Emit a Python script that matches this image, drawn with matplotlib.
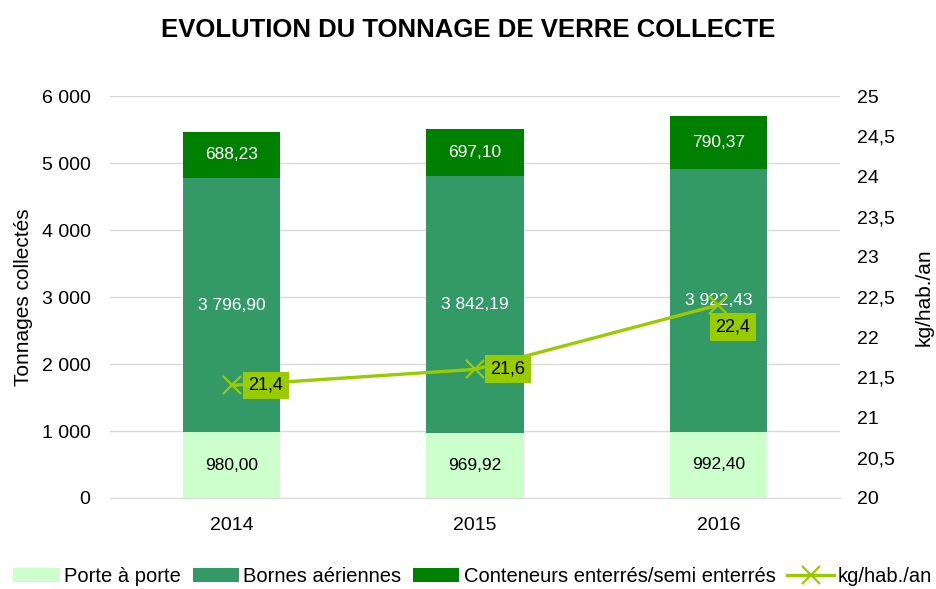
import numpy as np
import matplotlib
matplotlib.use("Agg")
import matplotlib.pyplot as plt

plt.rcParams['font.family'] = ['Liberation Sans', 'DejaVu Sans']

# Données
annees = ['2014', '2015', '2016']
porte_a_porte = [980.00, 969.92, 992.40]
bornes_aeriennes = [3796.90, 3842.19, 3922.43]
conteneurs = [688.23, 697.10, 790.37]
kg_hab = [21.4, 21.6, 22.4]


def fmt_fr(v):
    s = f"{v:,.2f}"
    return s.replace(",", " ").replace(".", ",")


fig = plt.figure(figsize=(9.36, 5.89), dpi=100)
ax = fig.add_axes([0.1175, 0.1545, 0.78, 0.6825])
ax2 = ax.twinx()

x = np.arange(len(annees))
w = 0.4
c_pap = '#CCFFCC'
c_bornes = '#339966'
c_cont = '#008000'
c_ligne = '#99CC00'

b1 = ax.bar(x, porte_a_porte, w, color=c_pap, label='Porte à porte', zorder=2)
b2 = ax.bar(x, bornes_aeriennes, w, bottom=porte_a_porte, color=c_bornes,
            label='Bornes aériennes', zorder=2)
bas3 = np.array(porte_a_porte) + np.array(bornes_aeriennes)
b3 = ax.bar(x, conteneurs, w, bottom=bas3, color=c_cont,
            label='Conteneurs enterrés/semi enterrés', zorder=2)

# Étiquettes des barres
for i in range(len(annees)):
    ax.text(x[i], porte_a_porte[i] / 2, fmt_fr(porte_a_porte[i]),
            ha='center', va='center', fontsize=12.5, color='black', zorder=3)
    ax.text(x[i], porte_a_porte[i] + bornes_aeriennes[i] / 2, fmt_fr(bornes_aeriennes[i]),
            ha='center', va='center', fontsize=12.5, color='white', zorder=3)
    ax.text(x[i], bas3[i] + conteneurs[i] / 2, fmt_fr(conteneurs[i]),
            ha='center', va='center', fontsize=12.5, color='white', zorder=3)

ax.set_ylim(0, 6000)
ax.set_xlim(-0.5, 2.5)
ax.set_yticks(np.arange(0, 6001, 1000))
ax.set_yticklabels([f"{v:,}".replace(",", " ") for v in range(0, 6001, 1000)])
ax.set_xticks(x)
ax.set_xticklabels(annees)
ax.set_ylabel('Tonnages collectés', fontsize=15, labelpad=6)
ax.grid(axis='y', color='#D9D9D9', linewidth=1, zorder=0)
ax.set_axisbelow(True)
for s in ['top', 'left', 'right']:
    ax.spines[s].set_visible(False)
ax.spines['bottom'].set_color('#D9D9D9')
ax.tick_params(axis='y', length=0, labelsize=14, pad=14)
ax.tick_params(axis='x', length=0, labelsize=14, pad=14)

# Ligne kg/hab./an
l, = ax2.plot(x, kg_hab, color=c_ligne, linewidth=2.4, marker='x', markersize=13,
              markeredgewidth=1.6, label='kg/hab./an', zorder=4)
ax2.set_ylim(20, 25)
ax2.set_yticks(np.arange(20, 25.01, 0.5))
ax2.set_yticklabels([f"{v:g}".replace(".", ",") for v in np.arange(20, 25.01, 0.5)])
ax2.set_ylabel('kg/hab./an', fontsize=15, labelpad=14)
for s in ax2.spines.values():
    s.set_visible(False)
ax2.tick_params(axis='y', length=0, labelsize=14, pad=12)

decal = [(0.14, 0.0), (0.135, 0.0), (0.06, -0.27)]
for i, v in enumerate(kg_hab):
    ax2.text(x[i] + decal[i][0], v + decal[i][1], f"{v:.1f}".replace(".", ","),
             ha='center', va='center', fontsize=13, color='black', zorder=5,
             bbox=dict(boxstyle='square,pad=0.3', facecolor=c_ligne, edgecolor='none'))

fig.suptitle('EVOLUTION DU TONNAGE DE VERRE COLLECTE', fontsize=18.5,
             fontweight='bold', y=0.97)

fig.legend(handles=[b1, b2, b3, l], loc='lower center', ncol=4, frameon=False,
           fontsize=14.5, bbox_to_anchor=(0.505, -0.025), handlelength=2.3,
           handletextpad=0.2, columnspacing=0.6)

fig.savefig('out.png', dpi=100)
